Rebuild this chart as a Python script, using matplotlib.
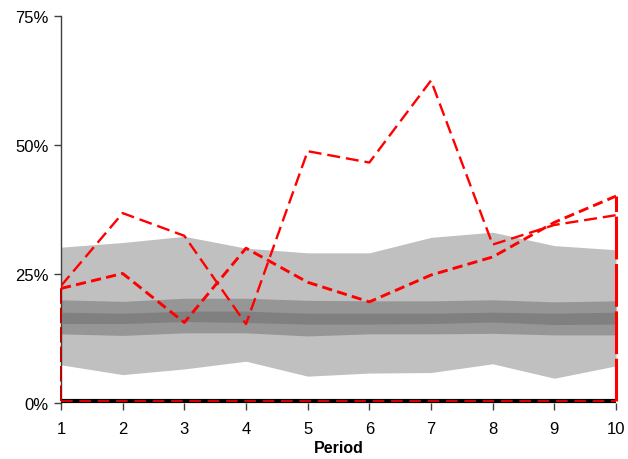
import matplotlib.pyplot as plt
import numpy as np
from matplotlib.ticker import FuncFormatter

plt.rcParams['font.family'] = ['Liberation Sans', 'DejaVu Sans']

periods = np.arange(1, 11)

# fan bands (percent)
outer_hi = [30.2, 31.1, 32.3, 30.0, 29.1, 29.1, 32.1, 33.1, 30.5, 29.7]
outer_lo = [7.4, 5.5, 6.6, 8.1, 5.2, 5.8, 5.9, 7.6, 4.8, 7.2]
mid_hi = [20.0, 19.7, 20.3, 20.3, 19.9, 19.8, 19.8, 20.0, 19.6, 19.8]
mid_lo = [13.4, 13.1, 13.6, 13.6, 13.0, 13.4, 13.4, 13.5, 13.2, 13.2]
core_hi = [17.6, 17.4, 17.8, 17.8, 17.4, 17.4, 17.4, 17.6, 17.4, 17.6]
core_lo = [15.4, 15.4, 15.8, 15.6, 15.3, 15.3, 15.4, 15.7, 15.2, 15.3]

# simulated paths (percent)
path_a = [22.7, 36.8, 32.4, 15.3, 48.8, 46.6, 62.5, 30.7, 34.5, 36.4]
path_b = [22.2, 25.1, 15.6, 30.0, 23.4, 19.6, 24.8, 28.3, 35.0, 40.1]

fig = plt.figure(figsize=(6.28, 4.6), dpi=100)
ax = fig.add_axes([61/628, 56/460, 555/628, 387/460])

ax.fill_between(periods, outer_lo, outer_hi, color='#C0C0C0', lw=0, zorder=1)
ax.fill_between(periods, mid_lo, mid_hi, color='#969696', lw=0, zorder=2)
ax.fill_between(periods, core_lo, core_hi, color='#808080', lw=0, zorder=3)

# base line along zero
ax.plot([periods[0], periods[-1]], [0.3, 0.3], color='black', lw=3, zorder=4,
        solid_capstyle='butt', clip_on=False)
ax.plot([periods[0], periods[-1]], [0.3, 0.3], color='red', lw=1.2, zorder=5,
        dashes=(7, 4), clip_on=False)

# closing verticals at the ends
ax.plot([periods[-1], periods[-1]], [0.3, path_b[-1]], color='red', lw=2.2,
        dashes=(14, 1.5), zorder=5, clip_on=False)
ax.plot([periods[0], periods[0]], [0.3, path_b[0]], color='#C00000', lw=1.4,
        dashes=(8, 2), zorder=5, clip_on=False)

ax.plot(periods, path_a, color='red', lw=1.7, dashes=(5.5, 2.5), zorder=6)
ax.plot(periods, path_b, color='red', lw=2.1, dashes=(3.5, 1.8), zorder=6)

ax.set_xlim(1, 10)
ax.set_ylim(0, 75)
ax.set_xticks(periods)
ax.set_yticks([0, 25, 50, 75])
ax.yaxis.set_major_formatter(FuncFormatter(lambda v, p: f'{v:.0f}%'))

for s in ['top', 'right', 'bottom']:
    ax.spines[s].set_visible(False)
ax.spines['left'].set_color('#404040')
ax.spines['left'].set_linewidth(1.0)
ax.tick_params(axis='both', direction='out', length=5, width=1,
               color='#404040', labelsize=12, labelcolor='black')
ax.tick_params(axis='x', pad=8)
ax.tick_params(axis='y', pad=4)

ax.set_xlabel('Period', fontsize=11.5, fontweight='bold', labelpad=3)

fig.savefig('out.png', dpi=100)
